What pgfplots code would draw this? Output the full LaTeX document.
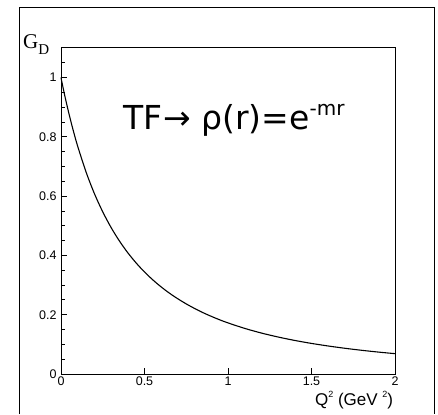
\documentclass[border=0pt]{standalone}
\usepackage{pgfplots}
\pgfplotsset{compat=1.18}
\usepackage{fontspec}
\setmainfont{Liberation Sans}
\newfontfamily\seriffont{Liberation Serif}
\newfontfamily\bigfont{DejaVu Sans}

% dipole form factor G_D(Q^2)
\pgfplotstableread{
q2     gd
0.000  1.0000
0.010  0.9724
0.025  0.9331
0.050  0.8727
0.075  0.8181
0.100  0.7683
0.150  0.6816
0.200  0.6087
0.250  0.5470
0.300  0.4942
0.350  0.4486
0.400  0.4091
0.450  0.3746
0.500  0.3443
0.550  0.3175
0.600  0.2937
0.650  0.2725
0.700  0.2536
0.750  0.2365
0.800  0.2211
0.850  0.2071
0.900  0.1945
0.950  0.1829
1.000  0.1724
1.100  0.1539
1.200  0.1382
1.300  0.1248
1.400  0.1132
1.500  0.1032
1.600  0.0945
1.700  0.0868
1.800  0.0800
1.900  0.0740
2.000  0.0686
}\gdtable

\begin{document}
\begin{tikzpicture}
\useasboundingbox (0,0) rectangle (438pt,414pt);
% outer frame
\draw[line width=0.9pt] (19pt,0pt) -- (19pt,407pt) -- (434pt,407pt) -- (434pt,0pt);
\begin{axis}[
  at={(61pt,40pt)}, anchor=south west,
  scale only axis, width=334pt, height=326pt,
  xmin=0, xmax=2, ymin=0, ymax=1.1,
  xtick={0,0.5,1,1.5,2},
  xticklabels={0,0.5,1,1.5,2},
  ytick={0,0.2,0.4,0.6,0.8,1},
  yticklabels={0,0.2,0.4,0.6,0.8,1},
  minor ytick={0.05,0.1,0.15,0.25,0.3,0.35,0.45,0.5,0.55,0.65,0.7,0.75,0.85,0.9,0.95,1.05},
  xtick pos=bottom, ytick pos=left,
  tick align=inside,
  major tick length=6pt, minor tick length=3.5pt,
  every tick/.style={line width=0.9pt, black},
  axis line style={line width=1pt},
  tick label style={font=\fontsize{12.5}{13}\selectfont},
  /pgf/number format/assume math mode=true,
  xticklabel style={yshift=1pt},
  yticklabel style={xshift=-1pt},
  clip=false,
]
\addplot[black, line width=1.1pt, smooth] table[x=q2, y=gd] {\gdtable};
\node[anchor=base west, inner sep=0pt] at (axis cs:0.371,0.824)
  {\bigfont\fontsize{33}{36}\selectfont TF\kern1pt→ ρ(r)=e\raisebox{0.42em}{\fontsize{20}{21}\selectfont -mr}};
\node[anchor=east, inner sep=0pt] at (axis cs:1.99,-0.088)
  {\fontsize{17}{18}\selectfont Q\raisebox{0.45em}{\fontsize{9}{10}\selectfont 2} (GeV \raisebox{0.45em}{\fontsize{9}{10}\selectfont 2})};
\node[anchor=base west, inner sep=0pt] at (axis cs:-0.228,1.097)
  {\seriffont\fontsize{21}{23}\selectfont G\raisebox{-0.25em}{\fontsize{15}{16}\selectfont D}};
\end{axis}
\end{tikzpicture}
\end{document}
